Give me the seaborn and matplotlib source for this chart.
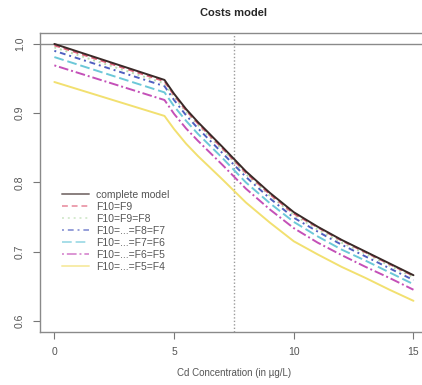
import matplotlib
matplotlib.use("Agg")
import matplotlib.pyplot as plt
import seaborn as sns
import pandas as pd

# Cd concentration grid (µg/L)
cd = [0, 4.6, 5, 5.5, 6, 7, 8, 9, 10, 11, 12, 13, 14, 15]

# costs
complete = [1.000, 0.948, 0.928, 0.906, 0.887, 0.852, 0.816, 0.785, 0.757, 0.736, 0.717, 0.700, 0.683, 0.666]
f9 = [0.998, 0.946, 0.926, 0.904, 0.885, 0.850, 0.814, 0.783, 0.755, 0.735, 0.716, 0.699, 0.682, 0.665]
f8 = [0.995, 0.943, 0.923, 0.902, 0.883, 0.848, 0.812, 0.781, 0.753, 0.732, 0.713, 0.697, 0.680, 0.663]
f7 = [0.990, 0.939, 0.919, 0.897, 0.878, 0.843, 0.808, 0.777, 0.749, 0.729, 0.710, 0.693, 0.676, 0.659]
f6 = [0.981, 0.930, 0.910, 0.889, 0.870, 0.836, 0.800, 0.770, 0.743, 0.722, 0.703, 0.687, 0.670, 0.653]
f5 = [0.969, 0.919, 0.899, 0.878, 0.860, 0.826, 0.791, 0.761, 0.734, 0.713, 0.695, 0.678, 0.662, 0.645]
f4 = [0.945, 0.896, 0.877, 0.856, 0.838, 0.805, 0.771, 0.742, 0.715, 0.696, 0.678, 0.662, 0.645, 0.629]

labels = ["complete model", "F10=F9", "F10=F9=F8", "F10=...=F8=F7",
          "F10=...=F7=F6", "F10=...=F6=F5", "F10=...=F5=F4"]
series = [complete, f9, f8, f7, f6, f5, f4]
colors = ["#3a2a28", "#e0607a", "#b9dcb0", "#4f5fc0", "#6cc8d8", "#c450b8", "#f2e070"]
styles = ["-", (0, (3, 2)), (0, (1, 2)), (0, (1, 2, 3, 2)), (0, (5, 2)),
          (0, (1, 1.5, 5, 1.5)), "-"]

sns.set_style("white")
plt.rcParams["font.family"] = ["Liberation Sans", "DejaVu Sans"]

fig = plt.figure(figsize=(4.22, 3.85), dpi=100)
ax = fig.add_axes([0.0948, 0.1377, 0.919, 0.777])

ax.axhline(1.0, color="#8a8a8a", lw=1)
ax.axvline(7.5, color="#9a9a9a", lw=1, ls=(0, (1, 1.5)))

# draw in reverse so the complete model sits on top
for vals, lab, col, st in reversed(list(zip(series, labels, colors, styles))):
    df = pd.DataFrame({"cd": cd, "cost": vals})
    sns.lineplot(data=df, x="cd", y="cost", ax=ax, color=col, lw=1.4,
                 linestyle=st, label=lab)

ax.set_xlim(-0.6, 15.6)
ax.set_ylim(0.584, 1.016)
ax.set_xticks([0, 5, 10, 15])
ax.set_yticks([0.6, 0.7, 0.8, 0.9, 1.0])
ax.set_xticklabels(["0", "5", "10", "15"])
ax.set_yticklabels(["0.6", "0.7", "0.8", "0.9", "1.0"], rotation=90, va="center")
ax.tick_params(axis="both", direction="out", length=5, width=0.8, color="#777777",
               labelsize=7.5, labelcolor="#555555", bottom=True, left=True, pad=6)
for s in ax.spines.values():
    s.set_color("#8a8a8a")
    s.set_linewidth(1)

ax.set_xlabel("Cd Concentration (in µg/L)", fontsize=7, color="#555555", labelpad=8)
ax.set_ylabel("")
ax.set_title("Costs model", fontsize=8, fontweight="bold", pad=12)

h, l = ax.get_legend_handles_labels()
leg = ax.legend(h[::-1], l[::-1], loc="upper left", bbox_to_anchor=(0.045, 0.49),
                frameon=False, fontsize=7.5, labelspacing=0.2, handlelength=2.6,
                handletextpad=0.7, borderaxespad=0)
for t in leg.get_texts():
    t.set_color("#555555")
for ln in leg.get_lines():
    ln.set_alpha(0.6)

fig.savefig("out.png", dpi=100)
